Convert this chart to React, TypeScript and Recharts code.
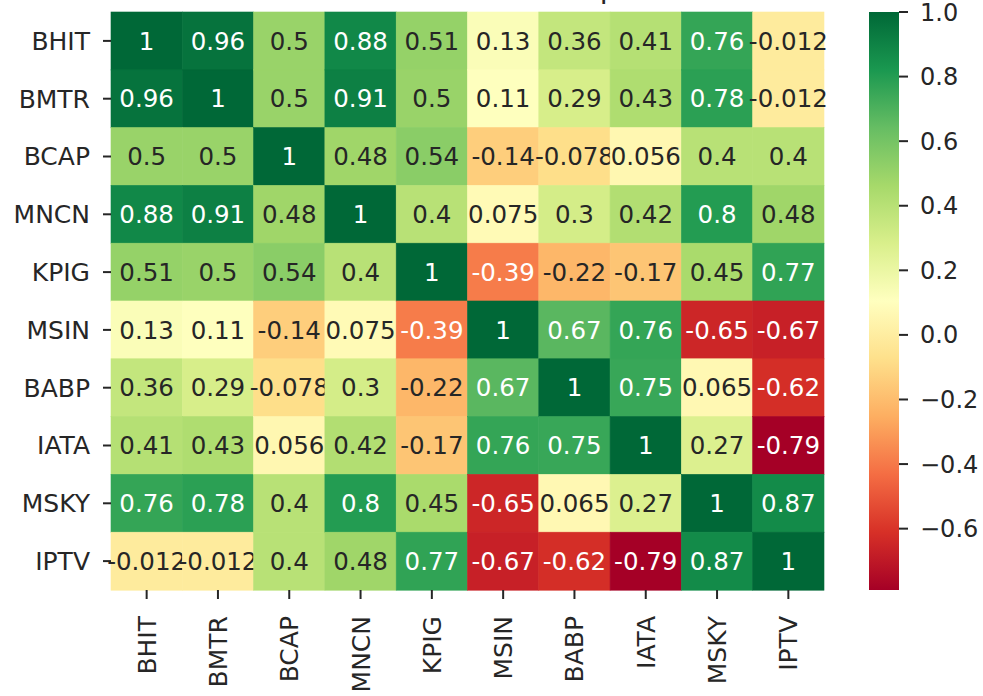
import React from 'react'
import { BarChart, Bar, XAxis, YAxis } from 'recharts'

// tickers, same order on both axes
const labels = ['BHIT', 'BMTR', 'BCAP', 'MNCN', 'KPIG', 'MSIN', 'BABP', 'IATA', 'MSKY', 'IPTV']

// correlation rows
const rowBHIT = [1, 0.96, 0.5, 0.88, 0.51, 0.13, 0.36, 0.41, 0.76, -0.012]
const rowBMTR = [0.96, 1, 0.5, 0.91, 0.5, 0.11, 0.29, 0.43, 0.78, -0.012]
const rowBCAP = [0.5, 0.5, 1, 0.48, 0.54, -0.14, -0.078, 0.056, 0.4, 0.4]
const rowMNCN = [0.88, 0.91, 0.48, 1, 0.4, 0.075, 0.3, 0.42, 0.8, 0.48]
const rowKPIG = [0.51, 0.5, 0.54, 0.4, 1, -0.39, -0.22, -0.17, 0.45, 0.77]
const rowMSIN = [0.13, 0.11, -0.14, 0.075, -0.39, 1, 0.67, 0.76, -0.65, -0.67]
const rowBABP = [0.36, 0.29, -0.078, 0.3, -0.22, 0.67, 1, 0.75, 0.065, -0.62]
const rowIATA = [0.41, 0.43, 0.056, 0.42, -0.17, 0.76, 0.75, 1, 0.27, -0.79]
const rowMSKY = [0.76, 0.78, 0.4, 0.8, 0.45, -0.65, 0.065, 0.27, 1, 0.87]
const rowIPTV = [-0.012, -0.012, 0.4, 0.48, 0.77, -0.67, -0.62, -0.79, 0.87, 1]

const matrix = [rowBHIT, rowBMTR, rowBCAP, rowMNCN, rowKPIG, rowMSIN, rowBABP, rowIATA, rowMSKY, rowIPTV]

const colorbarTicks = [-0.6, -0.4, -0.2, 0, 0.2, 0.4, 0.6, 0.8, 1.0]
const title = 'Correlation Heatmap'

const FONT = '"DejaVu Sans", sans-serif'
const INK = '#262626'

// matplotlib RdYlGn
const RdYlGn = ['#a50026', '#d73027', '#f46d43', '#fdae61', '#fee08b', '#ffffbf', '#d9ef8b', '#a6d96a', '#66bd63', '#1a9850', '#006837']

const vmin = Math.min(...matrix.flat())
const vmax = Math.max(...matrix.flat())

const hexToRgb = (h: string) => [1, 3, 5].map((i) => parseInt(h.slice(i, i + 2), 16))

function cmap(t: number) {
  const s = Math.max(0, Math.min(1, t)) * (RdYlGn.length - 1)
  const i = Math.min(Math.floor(s), RdYlGn.length - 2)
  const f = s - i
  const a = hexToRgb(RdYlGn[i])
  const b = hexToRgb(RdYlGn[i + 1])
  return a.map((c, k) => Math.round(c + (b[k] - c) * f))
}

const colorFor = (v: number) => {
  const [r, g, b] = cmap((v - vmin) / (vmax - vmin))
  return `rgb(${r},${g},${b})`
}

// seaborn picks annotation colour from luminance
function textColorFor(v: number) {
  const lin = cmap((v - vmin) / (vmax - vmin)).map((c) => {
    const x = c / 255
    return x <= 0.03928 ? x / 12.92 : Math.pow((x + 0.055) / 1.055, 2.4)
  })
  const lum = 0.2126 * lin[0] + 0.7152 * lin[1] + 0.0722 * lin[2]
  return lum > 0.408 ? INK : '#ffffff'
}

const rows = labels.map((name) => {
  const row: any = { name }
  labels.forEach((_, j) => { row[`c${j}`] = 1 })
  return row
})

const colorbarData = [{ name: 'cb', range: [vmin, vmax] }]

function HeatCell(props: any) {
  const { x, y, width, height, payload, col } = props
  const v = matrix[labels.indexOf(payload.name)][col]
  const fill = colorFor(v)
  return (
    <g>
      <rect x={x} y={y} width={width} height={height} fill={fill} stroke={fill} strokeWidth={0.6} />
      <text
        x={x + width / 2}
        y={y + height / 2}
        textAnchor="middle"
        dominantBaseline="central"
        fontFamily={FONT}
        fontSize={24.5}
        fill={textColorFor(v)}
      >
        {String(v)}
      </text>
    </g>
  )
}

function BottomTick(props: any) {
  const { x, y, payload } = props
  return (
    <text
      transform={`translate(${x},${y}) rotate(-90)`}
      textAnchor="end"
      dy="0.36em"
      fontFamily={FONT}
      fontSize={25}
      fill={INK}
    >
      {labels[Math.floor(payload.value)]}
    </text>
  )
}

const fmtBar = (v: number) => (v < -1e-9 ? '\u2212' : '') + Math.abs(v).toFixed(1)

export default function App() {
  return (
    <div style={{ position: 'absolute', left: 0, top: 0, width: 983, height: 696, background: '#fff' }}>
      <svg width={983} height={20} style={{ position: 'absolute', left: 0, top: 0 }}>
        <text x={467} y={-2} textAnchor="middle" fontFamily={FONT} fontSize={29} fill={INK}>
          {title}
        </text>
      </svg>

      <div style={{ position: 'absolute', left: 0, top: 0 }}>
        <BarChart
          width={840}
          height={696}
          data={rows}
          layout="vertical"
          barCategoryGap={0}
          barGap={0}
          margin={{ top: 12, right: 16, bottom: 0, left: 0 }}
        >
          <XAxis
            type="number"
            domain={[0, labels.length]}
            ticks={labels.map((_, j) => j + 0.5)}
            height={106}
            axisLine={false}
            tickSize={9}
            tickMargin={17}
            tickLine={{ stroke: INK, strokeWidth: 2 }}
            tick={<BottomTick />}
            interval={0}
          />
          <YAxis
            type="category"
            dataKey="name"
            width={111}
            axisLine={false}
            tickSize={8}
            tickMargin={13}
            tickLine={{ stroke: INK, strokeWidth: 2 }}
            tick={{ fontSize: 25, fontFamily: FONT, fill: INK }}
            interval={0}
          />
          {labels.map((_, j) => (
            <Bar
              key={j}
              dataKey={`c${j}`}
              stackId="grid"
              isAnimationActive={false}
              shape={(p: any) => <HeatCell {...p} col={j} />}
            />
          ))}
        </BarChart>
      </div>

      <div style={{ position: 'absolute', left: 850, top: 0 }}>
        <BarChart
          width={133}
          height={696}
          data={colorbarData}
          barCategoryGap={0}
          margin={{ top: 12, right: 0, bottom: 106, left: 19 }}
        >
          <defs>
            <linearGradient id="cbGrad" x1="0" y1="0" x2="0" y2="1">
              {RdYlGn.slice().reverse().map((c, i) => (
                <stop key={i} offset={`${(i / (RdYlGn.length - 1)) * 100}%`} stopColor={c} />
              ))}
            </linearGradient>
          </defs>
          <XAxis dataKey="name" type="category" hide />
          <YAxis
            orientation="right"
            type="number"
            domain={[vmin, vmax]}
            ticks={colorbarTicks}
            allowDataOverflow
            width={84}
            axisLine={false}
            tickSize={9}
            tickMargin={12}
            tickLine={{ stroke: INK, strokeWidth: 2 }}
            tick={{ fontSize: 24, fontFamily: FONT, fill: INK }}
            tickFormatter={fmtBar}
            interval={0}
          />
          <Bar dataKey="range" fill="url(#cbGrad)" isAnimationActive={false} />
        </BarChart>
      </div>
    </div>
  )
}
